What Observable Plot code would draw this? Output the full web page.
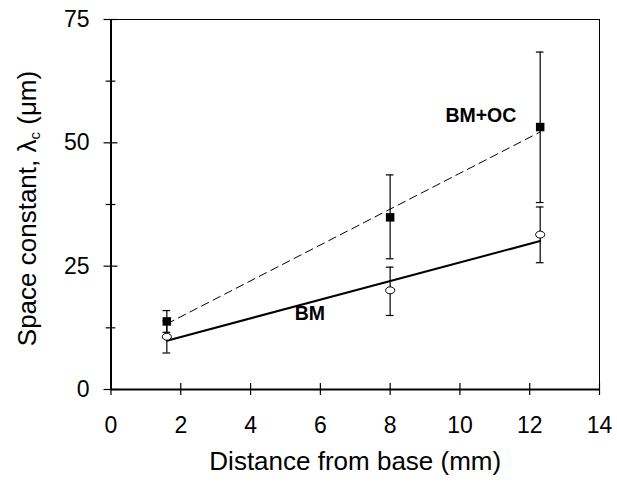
<!DOCTYPE html>
<html><head><meta charset="utf-8">
<script src="https://cdn.jsdelivr.net/npm/d3@7"></script>
<script src="https://cdn.jsdelivr.net/npm/@observablehq/plot@0.6"></script>
<style>body{margin:0;background:#fff}</style>
</head><body><div id="chart"></div>
<script>
const distance = [1.6, 8.0, 12.3];
const bmOcMean = [13.8, 34.9, 53.2];
const bmOcLow = [11.6, 26.5, 37.9];
const bmOcHigh = [16.0, 43.5, 68.4];
const bmMean = [10.7, 20.1, 31.4];
const bmLow = [7.4, 15.0, 25.7];
const bmHigh = [13.9, 24.8, 37.0];
const fitX = [1.6, 12.3];
const bmOcFit = [13.3, 52.2];
const bmFit = [9.9, 30.1];
const xTicks = [0, 2, 4, 6, 8, 10, 12, 14];
const yTicks = [0, 25, 50, 75];
const yMinorTicks = [12.5, 37.5, 62.5];
const labelNames = ["BM+OC", "BM"];
const labelX = [10.6, 5.7];
const labelY = [55.5, 15.3];
const xTitle = "Distance from base (mm)";
const yTitle = "Space constant, λc (μm)";

const ocRows = distance.map((x, i) => ({x, y: bmOcMean[i], lo: bmOcLow[i], hi: bmOcHigh[i]}));
const bmRows = distance.map((x, i) => ({x, y: bmMean[i], lo: bmLow[i], hi: bmHigh[i]}));
const ocFitRows = fitX.map((x, i) => ({x, y: bmOcFit[i]}));
const bmFitRows = fitX.map((x, i) => ({x, y: bmFit[i]}));
const labels = labelNames.map((name, i) => ({name, x: labelX[i], y: labelY[i]}));
const capW = 0.11;

// open ellipse marker (wider than tall)
const ellipse = {
  draw(ctx, size) {
    const r = Math.sqrt(size / Math.PI), rx = r * 1.3, ry = r, k = 0.5523;
    ctx.moveTo(rx, 0);
    ctx.bezierCurveTo(rx, ry * k, rx * k, ry, 0, ry);
    ctx.bezierCurveTo(-rx * k, ry, -rx, ry * k, -rx, 0);
    ctx.bezierCurveTo(-rx, -ry * k, -rx * k, -ry, 0, -ry);
    ctx.bezierCurveTo(rx * k, -ry, rx, -ry * k, rx, 0);
    ctx.closePath();
  }
};

function errorMarks(rows) {
  return [
    Plot.ruleX(rows, {x: "x", y1: "lo", y2: "hi", stroke: "#000", strokeWidth: 1.2}),
    Plot.ruleY(rows, {y: "hi", x1: d => d.x - capW, x2: d => d.x + capW, stroke: "#000", strokeWidth: 1.2}),
    Plot.ruleY(rows, {y: "lo", x1: d => d.x - capW, x2: d => d.x + capW, stroke: "#000", strokeWidth: 1.2})
  ];
}

const chart = Plot.plot({
  width: 617, height: 485,
  marginLeft: 110.5, marginRight: 18, marginTop: 19, marginBottom: 96,
  x: {domain: [0, 14]},
  y: {domain: [0, 75]},
  style: {fontFamily: "Liberation Sans", color: "#000", background: "#fff", overflow: "visible"},
  marks: [
    Plot.frame({stroke: "#000", strokeWidth: 1}),
    Plot.ruleX([0], {stroke: "#000", strokeWidth: 2}),
    Plot.ruleY([0], {stroke: "#000", strokeWidth: 2}),
    Plot.ruleX(xTicks, {x: d => d, y1: -1.22, y2: 1.22, stroke: "#000", strokeWidth: 1.2}),
    Plot.ruleY(yTicks, {y: d => d, x1: -0.2, x2: 0.2, stroke: "#000", strokeWidth: 1.2}),
    Plot.ruleY(yMinorTicks, {y: d => d, x1: -0.14, x2: 0.14, stroke: "#000", strokeWidth: 1.2}),
    Plot.axisX({ticks: xTicks, tickSize: 0, tickPadding: 27, fontSize: 23, label: null}),
    Plot.axisY({ticks: yTicks, tickSize: 0, tickPadding: 21.5, fontSize: 23, label: null}),
    Plot.line(ocFitRows, {x: "x", y: "y", stroke: "#000", strokeWidth: 1, strokeDasharray: "8,5"}),
    Plot.line(bmFitRows, {x: "x", y: "y", stroke: "#000", strokeWidth: 2}),
    ...errorMarks(ocRows),
    ...errorMarks(bmRows),
    Plot.dot(ocRows, {x: "x", y: "y", symbol: "square", r: 4.8, fill: "#000", stroke: "none"}),
    Plot.dot(bmRows, {x: "x", y: "y", symbol: ellipse, r: 3.5, fill: "#fff", stroke: "#000", strokeWidth: 1}),
    Plot.text(labels, {x: "x", y: "y", text: "name", fontWeight: "bold", fontSize: 19.5}),
    Plot.text([xTitle], {frameAnchor: "bottom", dy: 80, lineAnchor: "bottom", textAnchor: "middle", fontSize: 26, text: d => d}),
    Plot.text([yTitle], {frameAnchor: "left", dx: -75.5, dy: 4, rotate: -90, lineAnchor: "bottom", textAnchor: "middle", fontSize: 26, text: d => d})
  ]
});

d3.select(chart).selectAll("text").each(function() {
  if (this.textContent === yTitle) {
    const t = d3.select(this);
    t.text(null);
    t.append("tspan").text("Space constant, λ");
    t.append("tspan").attr("font-size", "15").attr("dy", "4").text("c");
    t.append("tspan").attr("dy", "-4").text(" (μm)");
  }
});
document.getElementById("chart").appendChild(chart);
</script>
</body></html>
